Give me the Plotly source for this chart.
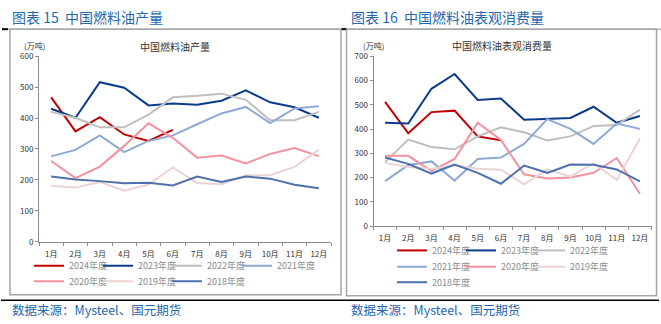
import plotly.graph_objects as go

W, H = 661, 324

months = ["1月", "2月", "3月", "4月", "5月", "6月", "7月", "8月", "9月", "10月", "11月", "12月"]
years = ["2024年度", "2023年度", "2022年度", "2021年度", "2020年度", "2019年度", "2018年度"]
colors = ["#C00000", "#0B3C8C", "#BFBFBF", "#8EA9D6", "#F4919E", "#EBD3D3", "#4E71AE"]

# 中国燃料油产量 (万吨)
prod_2024 = [467, 357, 403, 347, 326, 362, None, None, None, None, None, None]
prod_2023 = [430, 401, 516, 498, 441, 447, 443, 456, 490, 451, 435, 401]
prod_2022 = [420, 401, 370, 370, 411, 467, 472, 479, 459, 393, 393, 420]
prod_2021 = [276, 297, 344, 290, 326, 344, 380, 415, 436, 384, 431, 438]
prod_2020 = [261, 206, 243, 310, 383, 336, 272, 279, 253, 284, 303, 277]
prod_2019 = [180, 175, 193, 165, 185, 240, 190, 186, 215, 215, 242, 298]
prod_2018 = [211, 201, 196, 189, 191, 182, 211, 193, 211, 204, 184, 173]

# 中国燃料油表观消费量 (万吨)
cons_2024 = [512, 383, 470, 476, 370, 354, None, None, None, None, None, None]
cons_2023 = [426, 423, 566, 627, 520, 526, 439, 441, 446, 492, 426, 454]
cons_2022 = [264, 357, 326, 317, 370, 407, 387, 353, 370, 413, 417, 480]
cons_2021 = [186, 252, 267, 188, 277, 283, 339, 441, 401, 339, 423, 401]
cons_2020 = [290, 290, 228, 277, 426, 355, 214, 197, 201, 220, 281, 134]
cons_2019 = [261, 244, 237, 250, 237, 233, 173, 234, 204, 260, 190, 361]
cons_2018 = [283, 257, 217, 254, 220, 175, 250, 220, 254, 253, 234, 185]

prod = [prod_2024, prod_2023, prod_2022, prod_2021, prod_2020, prod_2019, prod_2018]
cons = [cons_2024, cons_2023, cons_2022, cons_2021, cons_2020, cons_2019, cons_2018]


def px(x):
    return x / W


def py(y):
    return 1 - y / H


# legend entry placement (label left edge, row centre) in pixels
left_leg_pos = [(69, 268), (138, 268), (207, 268), (277, 268), (69, 284), (138, 284), (207, 284)]
right_leg_pos = [(432, 252), (501, 252), (570, 252), (432, 269), (501, 269), (570, 269), (432, 285)]

fig = go.Figure()
leg_layout = {}
leg_common = dict(orientation="h", xanchor="left", yanchor="middle", bgcolor="rgba(0,0,0,0)",
                  font=dict(family="Noto Sans CJK SC", size=9, color="#8C8C8C"),
                  itemwidth=30, tracegroupgap=0, itemclick=False, itemdoubleclick=False)

n = 0
for panel, data, pos, xa, ya in [(0, prod, left_leg_pos, "x", "y"), (1, cons, right_leg_pos, "x2", "y2")]:
    for i in range(7):
        n += 1
        lname = "legend" if n == 1 else f"legend{n}"
        fig.add_trace(go.Scatter(x=months, y=data[i], name=years[i], mode="lines",
                                 line=dict(color=colors[i], width=2), xaxis=xa, yaxis=ya,
                                 legend=lname, showlegend=True, connectgaps=False))
        tx, ty = pos[i]
        leg_layout[lname] = dict(x=px(tx - 40), y=py(ty + 1), **leg_common)

tickfont = dict(family="Noto Sans CJK SC", size=8, color="#333333")
axis_common = dict(showgrid=False, zeroline=False, showline=True, linecolor="#8C8C8C",
                   linewidth=1, ticks="outside", ticklen=3, tickcolor="#8C8C8C",
                   tickfont=tickfont, fixedrange=True)

fig.update_layout(
    width=W, height=H,
    showlegend=True,
    margin=dict(l=0, r=0, t=0, b=0),
    paper_bgcolor="white", plot_bgcolor="white",
    xaxis=dict(domain=[px(39), px(331)], anchor="y", type="category", tickangle=0,
               range=[-0.5, 11.5], tickson="boundaries", ticklabelstandoff=5, **axis_common),
    yaxis=dict(domain=[py(244), py(52)], anchor="x", range=[0, 600], dtick=100, **axis_common),
    xaxis2=dict(domain=[px(373.5), px(651.5)], anchor="y2", type="category", tickangle=0,
                range=[-0.5, 11.5], tickson="boundaries", ticklabelstandoff=4, **axis_common),
    yaxis2=dict(domain=[py(228), py(52)], anchor="x2", range=[0, 700], dtick=100, **axis_common),
    **leg_layout,
)

shapes = []
# title underlines
shapes.append(dict(type="line", xref="paper", yref="paper", x0=px(2), x1=px(340), y0=py(24), y1=py(24),
                   line=dict(color="#8C8C8C", width=1)))
shapes.append(dict(type="line", xref="paper", yref="paper", x0=px(341), x1=px(661), y0=py(24), y1=py(24),
                   line=dict(color="#8C8C8C", width=1)))
shapes.append(dict(type="line", xref="paper", yref="paper", x0=px(2), x1=px(8), y0=py(24), y1=py(24),
                   line=dict(color="#000000", width=2)))
shapes.append(dict(type="line", xref="paper", yref="paper", x0=px(341), x1=px(347), y0=py(24), y1=py(24),
                   line=dict(color="#000000", width=2)))
# chart boxes
shapes.append(dict(type="rect", xref="paper", yref="paper", x0=px(10), x1=px(341), y0=py(299), y1=py(24),
                   line=dict(color="#A6A6A6", width=1.5)))
shapes.append(dict(type="rect", xref="paper", yref="paper", x0=px(346.5), x1=px(656.5), y0=py(300), y1=py(24),
                   line=dict(color="#A6A6A6", width=1.5)))
# bottom rule
shapes.append(dict(type="line", xref="paper", yref="paper", x0=px(1), x1=px(659), y0=py(304.5), y1=py(304.5),
                   line=dict(color="#000000", width=1.5)))
fig.update_layout(shapes=shapes)

blue = "#2567AE"
ann = []
ann.append(dict(text="图表 15  中国燃料油产量", x=px(10), y=py(11), xref="paper", yref="paper",
                xanchor="left", yanchor="middle", showarrow=False,
                font=dict(family="Noto Sans CJK SC", size=14, color=blue)))
ann.append(dict(text="图表 16  中国燃料油表观消费量", x=px(349), y=py(11), xref="paper", yref="paper",
                xanchor="left", yanchor="middle", showarrow=False,
                font=dict(family="Noto Sans CJK SC", size=14, color=blue)))
ann.append(dict(text="数据来源：Mysteel、国元期货", x=px(10), y=py(314), xref="paper", yref="paper",
                xanchor="left", yanchor="middle", showarrow=False,
                font=dict(family="Noto Sans CJK SC", size=12.5, color=blue)))
ann.append(dict(text="数据来源：Mysteel、国元期货", x=px(349), y=py(314), xref="paper", yref="paper",
                xanchor="left", yanchor="middle", showarrow=False,
                font=dict(family="Noto Sans CJK SC", size=12.5, color=blue)))
ann.append(dict(text="中国燃料油产量", x=px(175), y=py(42), xref="paper", yref="paper",
                xanchor="center", yanchor="middle", showarrow=False,
                font=dict(family="Noto Sans CJK SC", size=10, color="#333333")))
ann.append(dict(text="中国燃料油表观消费量", x=px(502), y=py(41), xref="paper", yref="paper",
                xanchor="center", yanchor="middle", showarrow=False,
                font=dict(family="Noto Sans CJK SC", size=10, color="#333333")))
ann.append(dict(text="(万吨)", x=px(22), y=py(41), xref="paper", yref="paper",
                xanchor="left", yanchor="middle", showarrow=False,
                font=dict(family="Noto Sans CJK SC", size=8, color="#333333")))
ann.append(dict(text="(万吨)", x=px(361), y=py(41), xref="paper", yref="paper",
                xanchor="left", yanchor="middle", showarrow=False,
                font=dict(family="Noto Sans CJK SC", size=8, color="#333333")))
fig.update_layout(annotations=ann)

fig.write_html("out.html")
